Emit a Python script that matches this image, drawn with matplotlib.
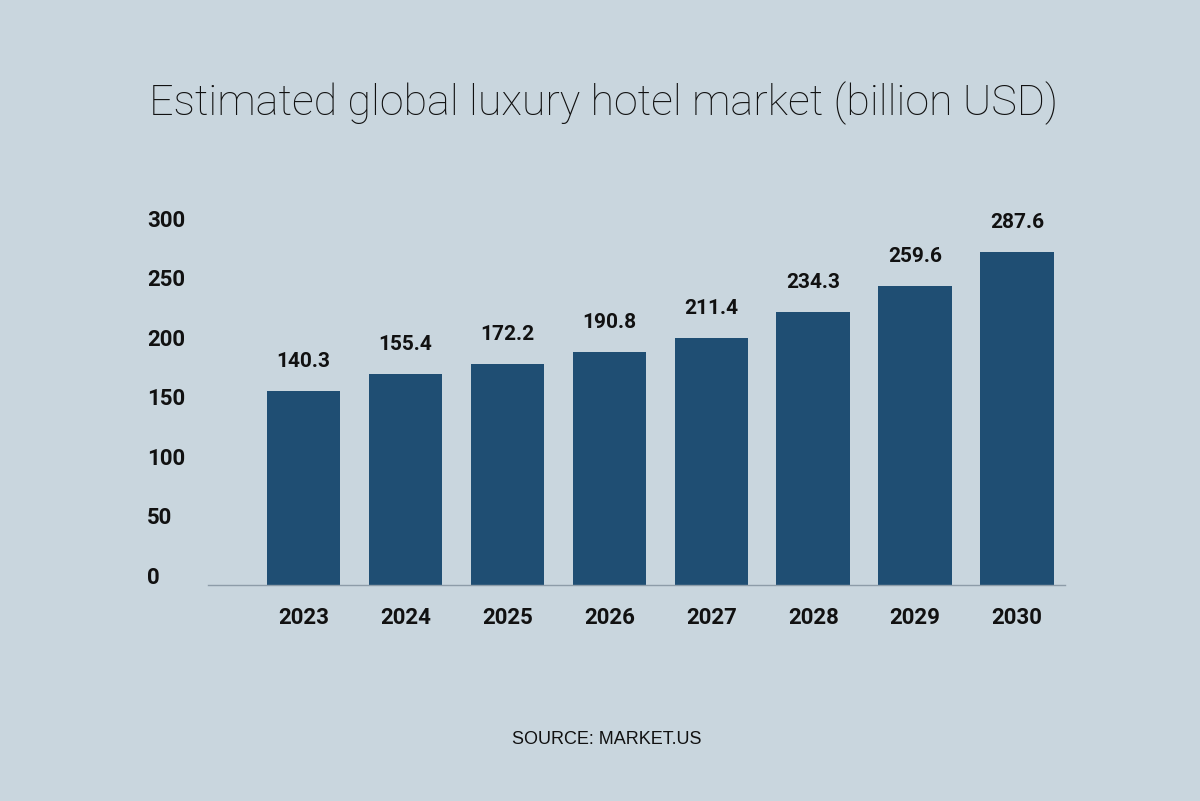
import matplotlib.pyplot as plt
import matplotlib.transforms as mtrans
import numpy as np

years = ["2023", "2024", "2025", "2026", "2027", "2028", "2029", "2030"]
# figures printed above the bars (billion USD)
labels = [140.3, 155.4, 172.2, 190.8, 211.4, 234.3, 259.6, 287.6]
# bar heights as drawn against the y axis of the original graphic
heights = [163.0, 177.3, 185.7, 195.8, 207.6, 229.4, 251.3, 279.8]
yticks = [0, 50, 100, 150, 200, 250, 300]

bg = "#c9d6de"
bar_col = "#1f4e73"
txt = "#111111"

def main():
	fig = plt.figure(figsize=(12, 8.01), dpi=100, facecolor=bg)
	ax = fig.add_axes([0.1733, 0.2697, 0.7142, 0.4457])
	ax.set_facecolor(bg)

	x = np.arange(len(years))
	ax.bar(x, heights, width=0.72, color=bar_col, zorder=2)
	for i in range(len(x)):
		ax.annotate("%.1f" % labels[i], (x[i], heights[i]), xytext=(0, 21),
			textcoords="offset points", ha="center", va="center",
			fontsize=15, fontfamily="Roboto", fontweight="bold", color=txt)

	ax.set_xlim(-0.937, 7.47)
	ax.set_ylim(0, 300)
	for s in ["top", "right", "left"]:
		ax.spines[s].set_visible(False)
	ax.spines["bottom"].set_color("#8d9ca8")
	ax.spines["bottom"].set_linewidth(1.0)

	ax.set_xticks(x)
	ax.set_xticklabels(years, fontsize=16, fontfamily="Roboto", fontweight="bold", color=txt)
	ax.set_yticks(yticks)
	ax.set_yticklabels([str(v) for v in yticks], fontsize=16, fontfamily="Roboto", fontweight="bold", color=txt)
	ax.tick_params(axis="x", length=0, pad=16)
	ax.tick_params(axis="y", length=0, pad=44)
	shift = mtrans.ScaledTranslation(0, 7 / 100, fig.dpi_scale_trans)
	for t in ax.get_yticklabels():
		t.set_horizontalalignment("left")
		t.set_verticalalignment("center")
		t.set_transform(t.get_transform() + shift)

	fig.text(0.503, 0.871, "Estimated global luxury hotel market (billion USD)", ha="center", va="center",
		fontsize=31, fontfamily="Roboto", fontweight="light", color=txt)
	fig.text(0.506, 0.077, "SOURCE: MARKET.US", ha="center", va="center",
		fontsize=13, fontfamily="Liberation Sans", color=txt)

	fig.savefig("out.png", dpi=100, facecolor=bg)

if __name__ == "__main__":
	main()
